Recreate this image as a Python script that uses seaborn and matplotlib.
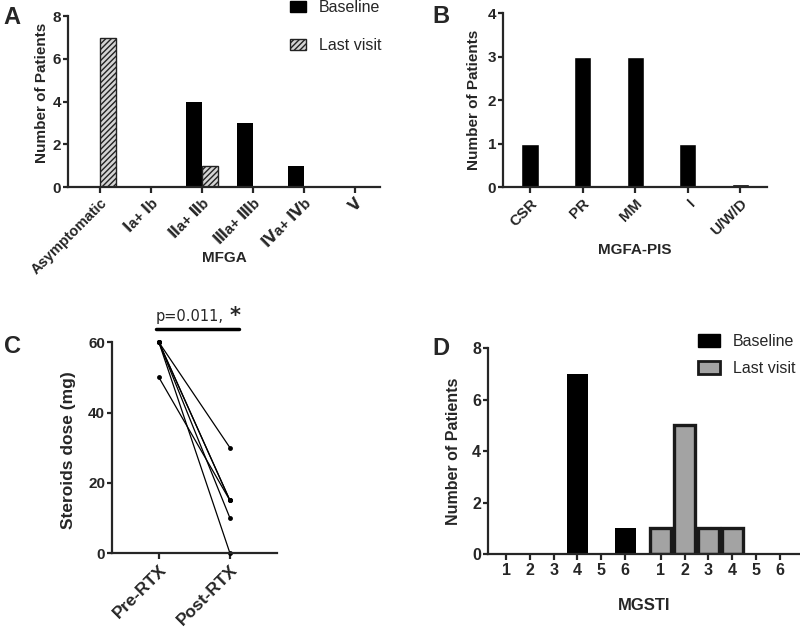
import numpy as np
import pandas as pd
import seaborn as sns
import matplotlib
matplotlib.use('Agg')
import matplotlib.pyplot as plt
import matplotlib.patches as mpatches

# ---- data ----
mfga_cats = ['Asymptomatic', 'Ⅰa+ Ⅰb', 'Ⅱa+ Ⅱb', 'Ⅲa+ Ⅲb', 'Ⅳa+ Ⅳb', 'Ⅴ']
mfga_baseline = [0, 0, 4, 3, 1, 0]
mfga_last = [7, 0, 1, 0, 0, 0]

pis_cats = ['CSR', 'PR', 'MM', 'I', 'U/W/D']
pis_vals = [1, 3, 3, 1, 0.07]

steroid_pre = [60, 60, 60, 60, 60, 50]
steroid_post = [30, 15, 15, 10, 0, 15]

mgsti_scores = [1, 2, 3, 4, 5, 6]
mgsti_baseline = [0, 0, 0, 7, 0, 1]
mgsti_last = [1, 5, 1, 1, 0, 0]

sns.set_style('ticks')
plt.rcParams['font.family'] = ['Liberation Sans', 'DejaVu Sans', 'Noto Sans CJK SC']
plt.rcParams['font.weight'] = 'bold'
plt.rcParams['axes.labelweight'] = 'bold'
plt.rcParams['axes.linewidth'] = 1.6
plt.rcParams['xtick.major.width'] = 1.6
plt.rcParams['ytick.major.width'] = 1.6
plt.rcParams['xtick.major.size'] = 4
plt.rcParams['ytick.major.size'] = 3.5
plt.rcParams['xtick.major.pad'] = 2.5
plt.rcParams['ytick.major.pad'] = 1.5

fig = plt.figure(figsize=(8, 6.35), dpi=100)

axA = fig.add_axes([0.085, 0.7055, 0.39, 0.269])
axB = fig.add_axes([0.629, 0.7055, 0.33, 0.274])
axC = fig.add_axes([0.14, 0.129, 0.206, 0.332])
axD = fig.add_axes([0.61, 0.1276, 0.39, 0.324])


def bold_ticks(ax, xs, ys):
    for t in ax.get_xticklabels():
        t.set_fontweight('bold')
        t.set_fontsize(xs)
    for t in ax.get_yticklabels():
        t.set_fontweight('bold')
        t.set_fontsize(ys)


# ---- A ----
dfA = pd.DataFrame({
    'cat': mfga_cats * 2,
    'n': mfga_baseline + mfga_last,
    'grp': ['Baseline'] * len(mfga_cats) + ['Last visit'] * len(mfga_cats),
})
sns.barplot(data=dfA, x='cat', y='n', hue='grp', order=mfga_cats,
            palette=['black', '#d4d4d4'], width=0.64, gap=0.0,
            saturation=1, legend=False, ax=axA)
for p in axA.containers[0]:
    p.set_linewidth(0)
for p in axA.containers[1]:
    p.set_hatch('//////')
    p.set_edgecolor('#222222')
    p.set_linewidth(1.0)
    if p.get_height() == 0:
        p.set_visible(False)
axA.set_xlim(-0.63, 5.49)
axA.set_ylim(0, 8)
axA.set_yticks([0, 2, 4, 6, 8])
axA.set_xticks(range(len(mfga_cats)))
axA.set_xticklabels(mfga_cats, rotation=45, ha='right', rotation_mode='anchor')
bold_ticks(axA, 10.5, 11)
axA.set_xlabel('MFGA', fontsize=11)
axA.xaxis.set_label_coords(0.5, -0.374)
axA.set_ylabel('Number of Patients', fontsize=11)
axA.yaxis.set_label_coords(-0.06, 0.553)
sns.despine(ax=axA)
hA = [mpatches.Patch(facecolor='black', edgecolor='black', label='Baseline'),
      mpatches.Patch(facecolor='#d4d4d4', edgecolor='#222222', hatch='//////', label='Last visit')]
fig.legend(handles=hA, loc='upper left', bbox_to_anchor=(0.3625, 1.0), frameon=False,
           labelspacing=1.45, handlelength=1.0, handleheight=0.7, handletextpad=0.8,
           prop={'weight': 'normal', 'size': 11.5}, borderpad=0, borderaxespad=0)

# ---- B ----
dfB = pd.DataFrame({'cat': pis_cats, 'n': pis_vals})
sns.barplot(data=dfB, x='cat', y='n', color='black', width=0.33, saturation=1, ax=axB)
axB.set_xlim(-0.51, 4.51)
axB.set_ylim(0, 4)
axB.set_yticks([0, 1, 2, 3, 4])
axB.set_xticks(range(len(pis_cats)))
axB.set_xticklabels(pis_cats, rotation=45, ha='right', rotation_mode='anchor')
bold_ticks(axB, 11, 11)
axB.set_xlabel('MGFA-PIS', fontsize=11)
axB.xaxis.set_label_coords(0.5, -0.32)
axB.set_ylabel('Number of Patients', fontsize=11)
axB.yaxis.set_label_coords(-0.083, 0.5)
sns.despine(ax=axB)

# ---- C ----
dfC = pd.DataFrame({
    'patient': list(range(len(steroid_pre))) * 2,
    't': [0] * len(steroid_pre) + [1] * len(steroid_post),
    'dose': steroid_pre + steroid_post,
})
sns.lineplot(data=dfC, x='t', y='dose', units='patient', estimator=None,
             color='black', lw=0.9, marker='o', markersize=3.5, markeredgewidth=0,
             clip_on=False, ax=axC)
axC.set_xlim(-0.66, 1.66)
axC.set_ylim(0, 60)
axC.set_yticks([0, 20, 40, 60])
axC.set_xticks([0, 1])
axC.set_xticklabels(['Pre-RTX', 'Post-RTX'], rotation=45, ha='right',
                    rotation_mode='anchor')
bold_ticks(axC, 12.5, 11)
axC.set_xlabel('')
axC.set_ylabel('Steroids dose (mg)', fontsize=12.5)
axC.yaxis.set_label_coords(-0.218, 0.49)
sns.despine(ax=axC)
axC.plot([-0.04, 1.13], [63.7, 63.7], color='black', lw=2.5, clip_on=False)
axC.text(-0.04, 65.3, 'p=0.011,', ha='left', va='bottom', fontsize=10.5,
         fontweight='normal', family='DejaVu Sans')
axC.text(1.0, 64.6, '*', ha='left', va='bottom', fontsize=15,
         fontweight='bold', family='DejaVu Sans')

# ---- D ----
pos_base = [s for s in mgsti_scores]
pos_last = [s + 6.5 for s in mgsti_scores]
dfD = pd.DataFrame({
    'pos': pos_base + pos_last,
    'n': mgsti_baseline + mgsti_last,
    'grp': ['Baseline'] * 6 + ['Last visit'] * 6,
})
sns.barplot(data=dfD, x='pos', y='n', hue='grp', native_scale=True, dodge=False,
            palette=['black', '#a3a3a3'], width=0.88, saturation=1,
            legend=False, ax=axD)
for p in axD.containers[0]:
    p.set_linewidth(0)
for p in axD.containers[1]:
    p.set_edgecolor('#1a1a1a')
    p.set_linewidth(2.4)
    if p.get_height() == 0:
        p.set_visible(False)
axD.set_xlim(0.24, 13.35)
axD.set_ylim(0, 8)
axD.set_yticks([0, 2, 4, 6, 8])
axD.set_xticks(pos_base + pos_last)
axD.set_xticklabels([str(s) for s in mgsti_scores] * 2)
bold_ticks(axD, 11.5, 11.5)
axD.set_xlabel('MGSTI', fontsize=12)
axD.xaxis.set_label_coords(0.5, -0.214)
axD.set_ylabel('Number of Patients', fontsize=11.5)
axD.yaxis.set_label_coords(-0.087, 0.5)
sns.despine(ax=axD)
hD = [mpatches.Patch(facecolor='black', edgecolor='black', label='Baseline'),
      mpatches.Patch(facecolor='#a3a3a3', edgecolor='#1a1a1a', linewidth=2, label='Last visit')]
fig.legend(handles=hD, loc='upper left', bbox_to_anchor=(0.8725, 0.474), frameon=False,
           labelspacing=0.75, handlelength=1.4, handleheight=0.8, handletextpad=0.8,
           prop={'weight': 'normal', 'size': 11.5}, borderpad=0, borderaxespad=0)

# panel letters
for lab, x, y in [('A', 0.004, 0.9905), ('B', 0.54, 0.992), ('C', 0.005, 0.4724), ('D', 0.541, 0.469)]:
    fig.text(x, y, lab, fontsize=17, fontweight='bold', va='top', ha='left')

fig.savefig('out.png', dpi=100)
